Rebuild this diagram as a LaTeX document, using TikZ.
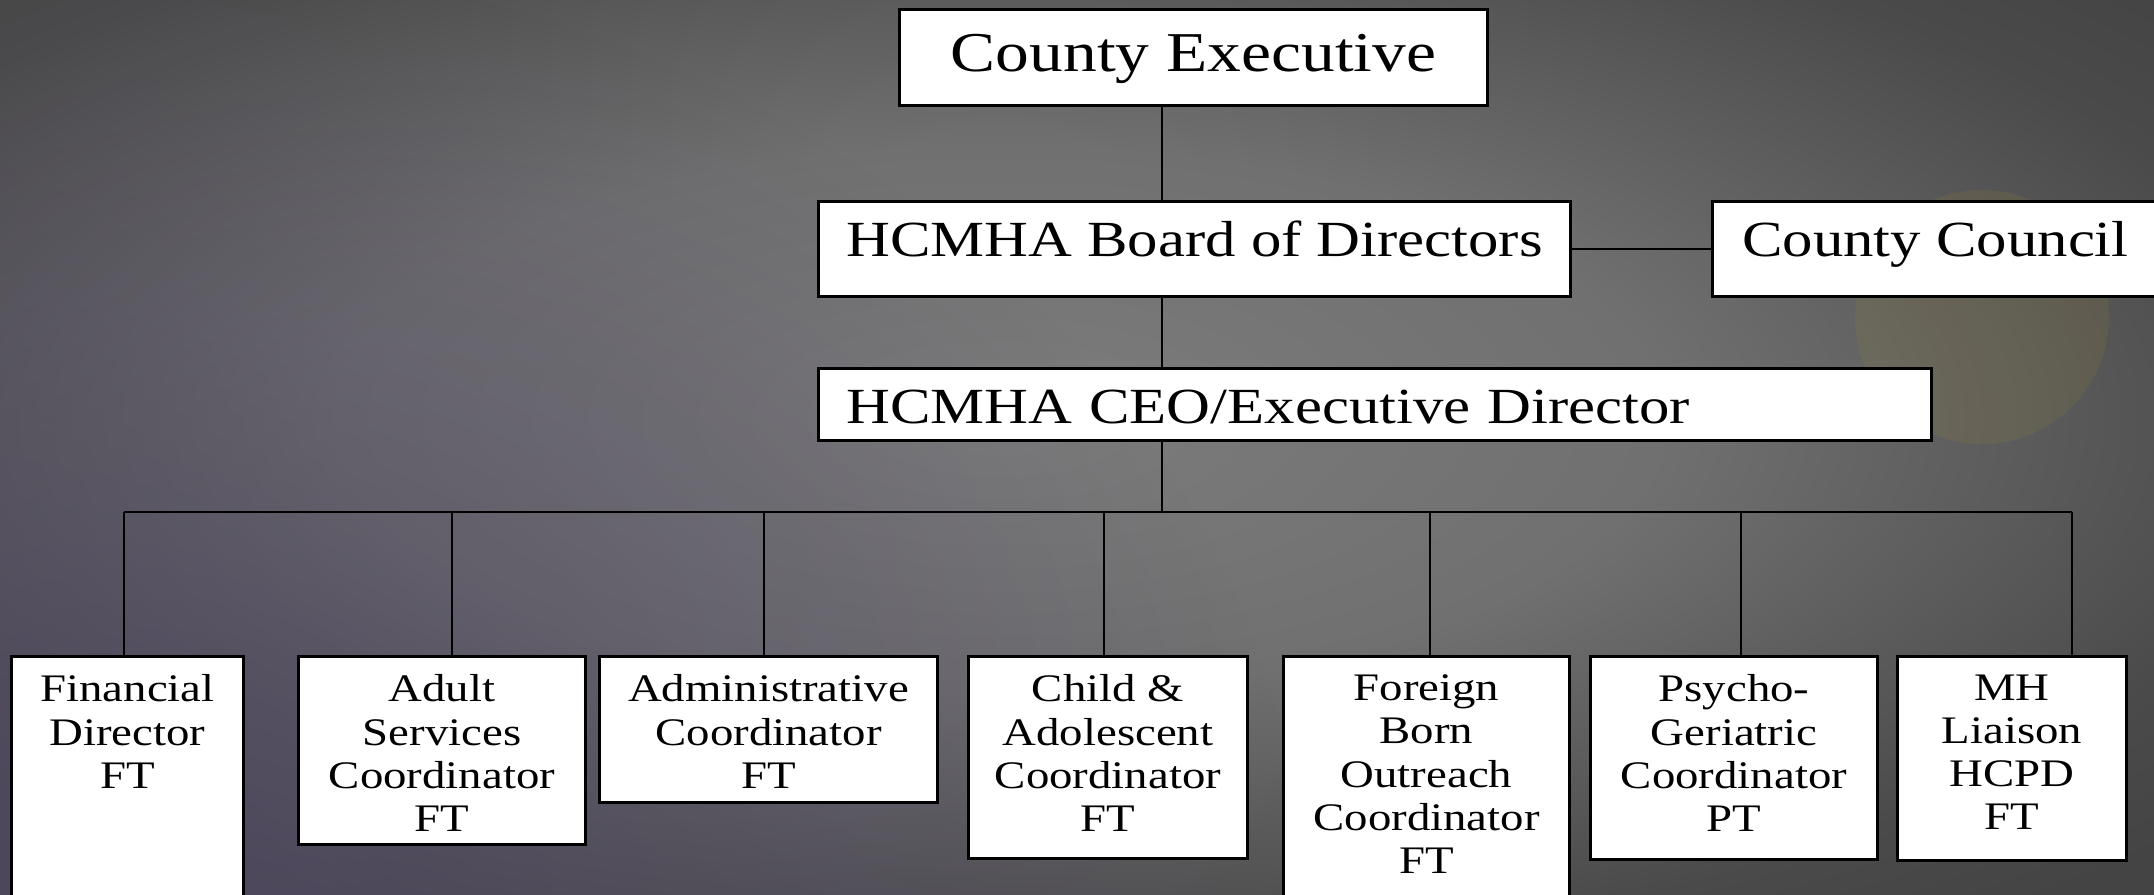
\documentclass[tikz,border=0pt]{standalone}
\usepackage{fontspec}
\setmainfont{Liberation Serif}[FakeStretch=1.2]
\usepackage{tikz}
\usetikzlibrary{fadings}
\definecolor{bgmid}{RGB}{124,124,124}
\definecolor{bgring}{RGB}{112,112,112}
\definecolor{bgdim}{RGB}{74,74,74}
\definecolor{bgedge}{RGB}{68,68,68}
\definecolor{bgpurple}{RGB}{80,72,100}
\definecolor{bgsun}{RGB}{170,150,40}
\pgfdeclareradialshading{slideglow}{\pgfpoint{0bp}{0bp}}{color(0bp)=(bgmid); color(11bp)=(bgring); color(22bp)=(bgdim); color(26bp)=(bgedge); color(50bp)=(bgedge)}
\tikzfading[name=softspot, inner color=transparent!0, outer color=transparent!100]

\begin{document}
\begin{tikzpicture}[
	box/.style={draw=black, line width=0.85pt, fill=white, inner sep=0pt, anchor=north west},
	toptext/.style={font=\fontsize{14.4pt}{17pt}\selectfont, text height=0.55cm},
	unittext/.style={align=center, inner sep=0pt, anchor=north, font=\fontsize{11.1pt}{12.3pt}\selectfont},
	link/.style={draw=black, line width=0.6pt}]
				\useasboundingbox (0,0) rectangle (21.54,-8.94);
				% background of the slide
				\shade [shading=slideglow] (-5.0,2.0) rectangle (25.0,-10.4);
				\fill [bgpurple, path fading=softspot, fill opacity=0.8] (1.0,-9.0) ellipse (12 and 9.5);
				\fill [bgsun, fill opacity=0.12] (19.82,-3.17) circle (1.27);
				
				\node[box, minimum width=5.88cm, text height=0.62cm, text depth=0.34cm, font=\fontsize{16pt}{19pt}\selectfont] (ce) at (8.98, -0.08) {County Executive};
				\node[box, toptext, minimum width=7.52cm, text depth=0.40cm] (board) at (8.17, -2.00) {HCMHA Board of Directors};
				\node[box, toptext, minimum width=4.46cm, text depth=0.40cm] (council) at (17.11, -2.00) {County Council};
				\node[box, toptext, inner xsep=0.28cm, text width=10.57cm, align=left, text depth=0.17cm] (ceo) at (8.17, -3.67) {HCMHA CEO/Executive Director};
				
				\node[box, minimum width=2.32cm, minimum height=3.0cm] (fin) at (0.10, -6.55) {};
				\node[box, minimum width=2.87cm, minimum height=1.88cm] (adult) at (2.97, -6.55) {};
				\node[box, minimum width=3.38cm, minimum height=1.46cm] (admin) at (5.98, -6.55) {};
				\node[box, minimum width=2.79cm, minimum height=2.02cm] (child) at (9.67, -6.55) {};
				\node[box, minimum width=2.86cm, minimum height=3.0cm] (foreign) at (12.82, -6.55) {};
				\node[box, minimum width=2.87cm, minimum height=2.03cm] (psycho) at (15.89, -6.55) {};
				\node[box, minimum width=2.29cm, minimum height=2.04cm] (liaison) at (18.96, -6.55) {};
				
				\node[unittext] (fin-t) at ([yshift=-0.19cm]fin.north) {Financial\\Director\\FT};
				\node[unittext] (adult-t) at ([yshift=-0.19cm]adult.north) {Adult\\Services\\Coordinator\\FT};
				\node[unittext] (admin-t) at ([yshift=-0.19cm]admin.north) {Administrative\\Coordinator\\FT};
				\node[unittext] (child-t) at ([yshift=-0.19cm]child.north) {Child \&\\Adolescent\\Coordinator\\FT};
				\node[unittext] (foreign-t) at ([yshift=-0.19cm]foreign.north) {Foreign\\Born\\Outreach\\Coordinator\\FT};
				\node[unittext] (psycho-t) at ([yshift=-0.19cm]psycho.north) {Psycho-\\Geriatric\\Coordinator\\PT};
				\node[unittext] (liaison-t) at ([yshift=-0.19cm]liaison.north) {MH\\Liaison\\HCPD\\FT};
				
				\coordinate (spine) at (11.62, -5.12);
				\coordinate (b1) at (1.24, -5.12);
				\coordinate (b2) at (4.52, -5.12);
				\coordinate (b3) at (7.64, -5.12);
				\coordinate (b4) at (11.04, -5.12);
				\coordinate (b5) at (14.30, -5.12);
				\coordinate (b6) at (17.41, -5.12);
				\coordinate (b7) at (20.72, -5.12);
				
				\draw [link] (spine |- ce.south) -- (spine |- board.north);
				\draw [link] (spine |- board.south) -- (spine |- ceo.north);
				\draw [link] (spine |- ceo.south) -- (spine);
				\draw [link] (board.east) -- (council.west);
				\draw [link] (b1) -- (b7);
				\draw [link] (b1) -- (b1 |- fin.north);
				\draw [link] (b2) -- (b2 |- adult.north);
				\draw [link] (b3) -- (b3 |- admin.north);
				\draw [link] (b4) -- (b4 |- child.north);
				\draw [link] (b5) -- (b5 |- foreign.north);
				\draw [link] (b6) -- (b6 |- psycho.north);
				\draw [link] (b7) -- (b7 |- liaison.north);
\end{tikzpicture}
\end{document}
